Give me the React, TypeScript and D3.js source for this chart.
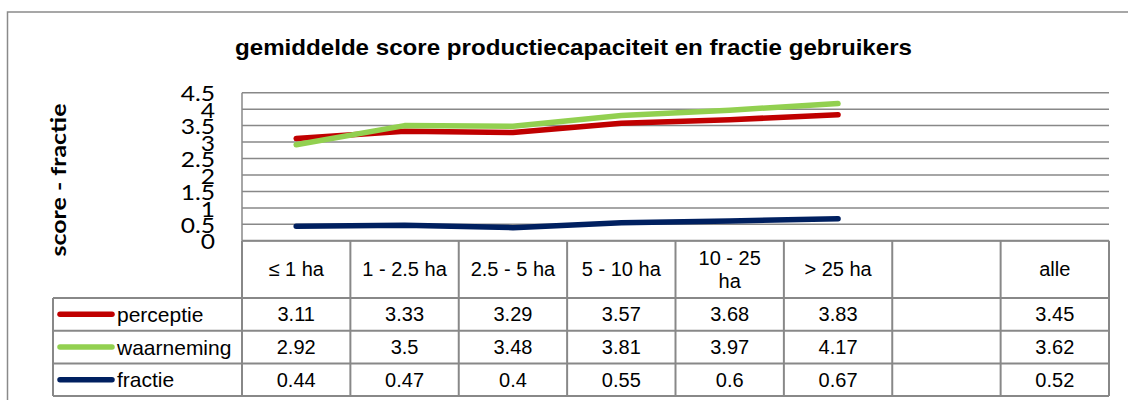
import * as d3 from "d3";

// categories shown in the data table (the blank column is a spacer in the source)
const categoryKeys = ["c1", "c2", "c3", "c4", "c5", "c6", "blank", "alle"];
const categoryLabels = [["≤ 1 ha"], ["1 - 2.5 ha"], ["2.5 - 5 ha"], ["5 - 10 ha"], ["10 - 25", "ha"], ["> 25 ha"], [""], ["alle"]];

const perceptie = [3.11, 3.33, 3.29, 3.57, 3.68, 3.83, null, 3.45];
const waarneming = [2.92, 3.5, 3.48, 3.81, 3.97, 4.17, null, 3.62];
const fractie = [0.44, 0.47, 0.4, 0.55, 0.6, 0.67, null, 0.52];

// only the size classes are drawn as lines
const lineKeys = ["c1", "c2", "c3", "c4", "c5", "c6"];

const yTicks = [0, 0.5, 1, 1.5, 2, 2.5, 3, 3.5, 4, 4.5];

const seriesNames = ["perceptie", "waarneming", "fractie"];
const seriesColors = ["#C00000", "#92D050", "#002060"];
const seriesValues = [perceptie, waarneming, fractie];

const W = 1128;
const H = 400;
const gridColor = "#888888";

export default function App() {
  const x = d3.scaleBand<string>().domain(categoryKeys).range([242, 1109]).padding(0);
  const y = d3.scaleLinear().domain([0, 4.5]).range([240.8, 92.7]);

  const rowTops = [298, 330.7, 363.5, 396];
  const headerTop = y(0);
  const tableLeft = 53;

  const line = d3
    .line<[string, number]>()
    .x((d) => (x(d[0]) as number) + x.bandwidth() / 2)
    .y((d) => y(d[1]));

  return (
    <svg
      width={W}
      height={H}
      viewBox={`0 0 ${W} ${H}`}
      style={{ position: "absolute", left: 0, top: 0, background: "#fff" }}
    >
      {/* outer chart frame */}
      <path d={`M7.5,${H} V12 H${W}`} fill="none" stroke="#8a8a8a" strokeWidth={1.5} />

      <text
        x={573.5}
        y={55}
        textAnchor="middle"
        fontFamily="'Liberation Sans', Arial, sans-serif"
        fontWeight="bold"
        fontSize={22}
        textLength={677}
        lengthAdjust="spacingAndGlyphs"
      >
        gemiddelde score productiecapaciteit en fractie gebruikers
      </text>

      {/* gridlines */}
      {yTicks.map((t) => (
        <line key={t} x1={242} x2={1109} y1={y(t)} y2={y(t)} stroke={gridColor} strokeWidth={1.5} />
      ))}
      <line x1={242} x2={242} y1={y(4.5)} y2={y(0)} stroke={gridColor} strokeWidth={1.5} />

      {/* y tick labels (overlapping, as in the original) */}
      {yTicks.map((t) => (
        <text
          key={t}
          transform={`translate(215,${y(t) + 1}) scale(1.2,1)`}
          textAnchor="end"
          dominantBaseline="central"
          fontFamily="Lato, 'Open Sans', sans-serif"
          fontSize={20.5}
        >
          {String(t)}
        </text>
      ))}

      <text
        transform={`translate(66,180) rotate(-90)`}
        textAnchor="middle"
        fontFamily="Lato, 'Open Sans', sans-serif"
        fontWeight="bold"
        fontSize={21}
        textLength={153}
        lengthAdjust="spacingAndGlyphs"
      >
        score - fractie
      </text>

      {/* lines */}
      {seriesValues.map((vals, i) => {
        const pts: [string, number][] = lineKeys.map((k) => [k, vals[categoryKeys.indexOf(k)] as number]);
        return (
          <path
            key={seriesNames[i]}
            d={line(pts) || ""}
            fill="none"
            stroke={seriesColors[i]}
            strokeWidth={5.5}
            strokeLinecap="round"
            strokeLinejoin="round"
          />
        );
      })}

      {/* data table */}
      <g stroke={gridColor} strokeWidth={2} fill="none">
        <line x1={242} x2={1109} y1={headerTop} y2={headerTop} />
        {rowTops.map((r) => (
          <line key={r} x1={tableLeft} x2={1109} y1={r} y2={r} />
        ))}
        <line x1={tableLeft} x2={tableLeft} y1={rowTops[0]} y2={rowTops[3]} />
        {categoryKeys.map((k) => (
          <line key={k} x1={x(k) as number} x2={x(k) as number} y1={headerTop} y2={rowTops[3]} />
        ))}
        <line x1={1109} x2={1109} y1={headerTop} y2={rowTops[3]} />
      </g>

      <g fontFamily="'Liberation Sans', Arial, sans-serif" fontSize={20} fill="#000">
        {categoryKeys.map((k, i) => {
          const cx = (x(k) as number) + x.bandwidth() / 2;
          const lines = categoryLabels[i];
          const mid = (headerTop + rowTops[0]) / 2;
          return lines.map((s, j) => (
            <text
              key={k + j}
              x={cx}
              y={mid + (j - (lines.length - 1) / 2) * 23}
              textAnchor="middle"
              dominantBaseline="central"
            >
              {s}
            </text>
          ));
        })}

        {seriesValues.map((vals, r) => {
          const cy = (rowTops[r] + rowTops[r + 1]) / 2;
          return (
            <g key={seriesNames[r]}>
              <line
                x1={60}
                x2={112}
                y1={cy}
                y2={cy}
                stroke={seriesColors[r]}
                strokeWidth={5.5}
                strokeLinecap="round"
              />
              <text x={117} y={cy} dominantBaseline="central" fontSize={21}>
                {seriesNames[r]}
              </text>
              {vals.map((v, i) =>
                v == null ? null : (
                  <text
                    key={i}
                    x={(x(categoryKeys[i]) as number) + x.bandwidth() / 2}
                    y={cy}
                    textAnchor="middle"
                    dominantBaseline="central"
                  >
                    {String(v)}
                  </text>
                )
              )}
            </g>
          );
        })}
      </g>
    </svg>
  );
}
